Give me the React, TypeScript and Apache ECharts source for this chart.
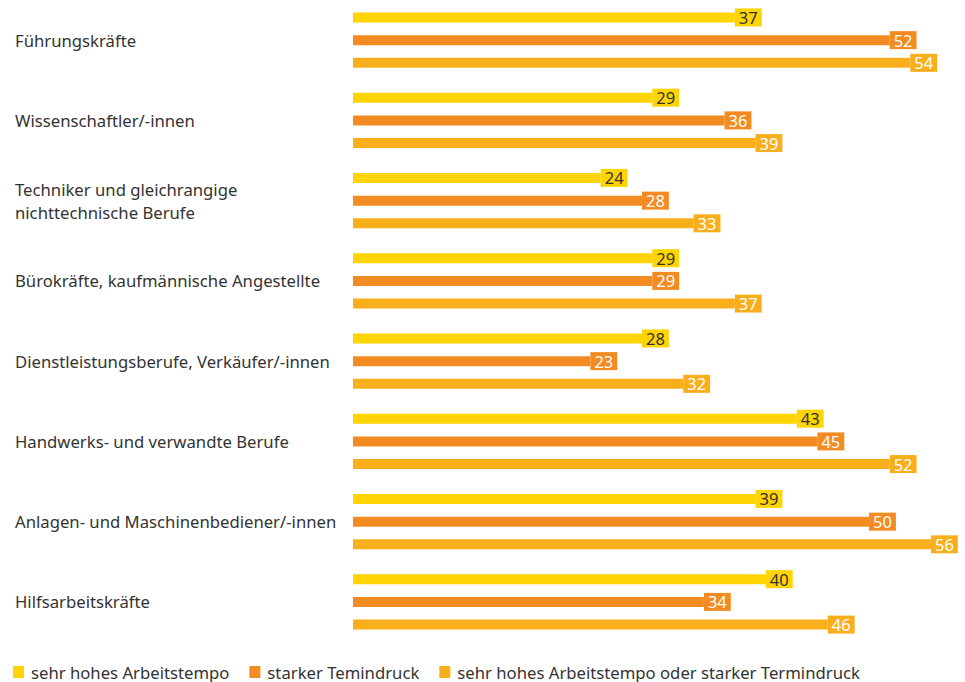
import React, { useEffect, useRef } from "react";
import * as echarts from "echarts";

const categories = [
  "Führungskräfte",
  "Wissenschaftler/-innen",
  "Techniker und gleichrangige\nnichttechnische Berufe",
  "Bürokräfte, kaufmännische Angestellte",
  "Dienstleistungsberufe, Verkäufer/-innen",
  "Handwerks- und verwandte Berufe",
  "Anlagen- und Maschinenbediener/-innen",
  "Hilfsarbeitskräfte",
];
const seriesNames = [
  "sehr hohes Arbeitstempo",
  "starker Temindruck",
  "sehr hohes Arbeitstempo oder starker Termindruck",
];
const tempo = [37, 29, 24, 29, 28, 43, 39, 40];
const termin = [52, 36, 28, 29, 23, 45, 50, 34];
const either = [54, 39, 33, 37, 32, 52, 56, 46];
const colors = ["#FFD400", "#F28C22", "#F9AE1B"];
const labelColors = ["#333333", "#ffffff", "#ffffff"];

export default function App() {
  const ref = useRef<HTMLDivElement>(null);
  useEffect(() => {
    if (!ref.current) return;
    const chart = echarts.init(ref.current, undefined, { renderer: "svg" });
    const font = "'Noto Sans', sans-serif";
    const data = [tempo, termin, either];
    chart.setOption({
      animation: false,
      textStyle: { fontFamily: font },
      grid: { left: 353, top: -3, height: 645, width: 598.6, containLabel: false },
      xAxis: {
        type: "value",
        min: 0,
        max: 58,
        show: false,
      },
      yAxis: {
        type: "category",
        data: categories,
        inverse: true,
        axisLine: { show: false },
        axisTick: { show: false },
        axisLabel: {
          align: "left",
          margin: 338,
          fontSize: 16.7,
          color: "#333333",
          fontFamily: font,
          lineHeight: 23,
        },
      },
      legend: {
        top: 663,
        left: 13,
        padding: 0,
        icon: "rect",
        itemWidth: 11,
        itemHeight: 12,
        itemGap: 20,
        textStyle: { fontSize: 16.7, color: "#333333", fontFamily: font, padding: [0, 0, 0, 2], lineHeight: 18 },
        data: seriesNames,
      },
      series: seriesNames.map((name, i) => ({
        name,
        type: "bar",
        data: data[i],
        barWidth: 10,
        barGap: "127%",
        itemStyle: { color: colors[i] },
        label: {
          show: true,
          position: "right",
          distance: 0,
          color: labelColors[i],
          backgroundColor: colors[i],
          fontSize: 16.5,
          fontFamily: font,
          padding: [0, 4, 0, 4],
          lineHeight: 18,
        },
      })),
    });
    return () => chart.dispose();
  }, []);
  return <div ref={ref} style={{ width: 965, height: 682, position: "absolute", left: 0, top: 0 }} />;
}
